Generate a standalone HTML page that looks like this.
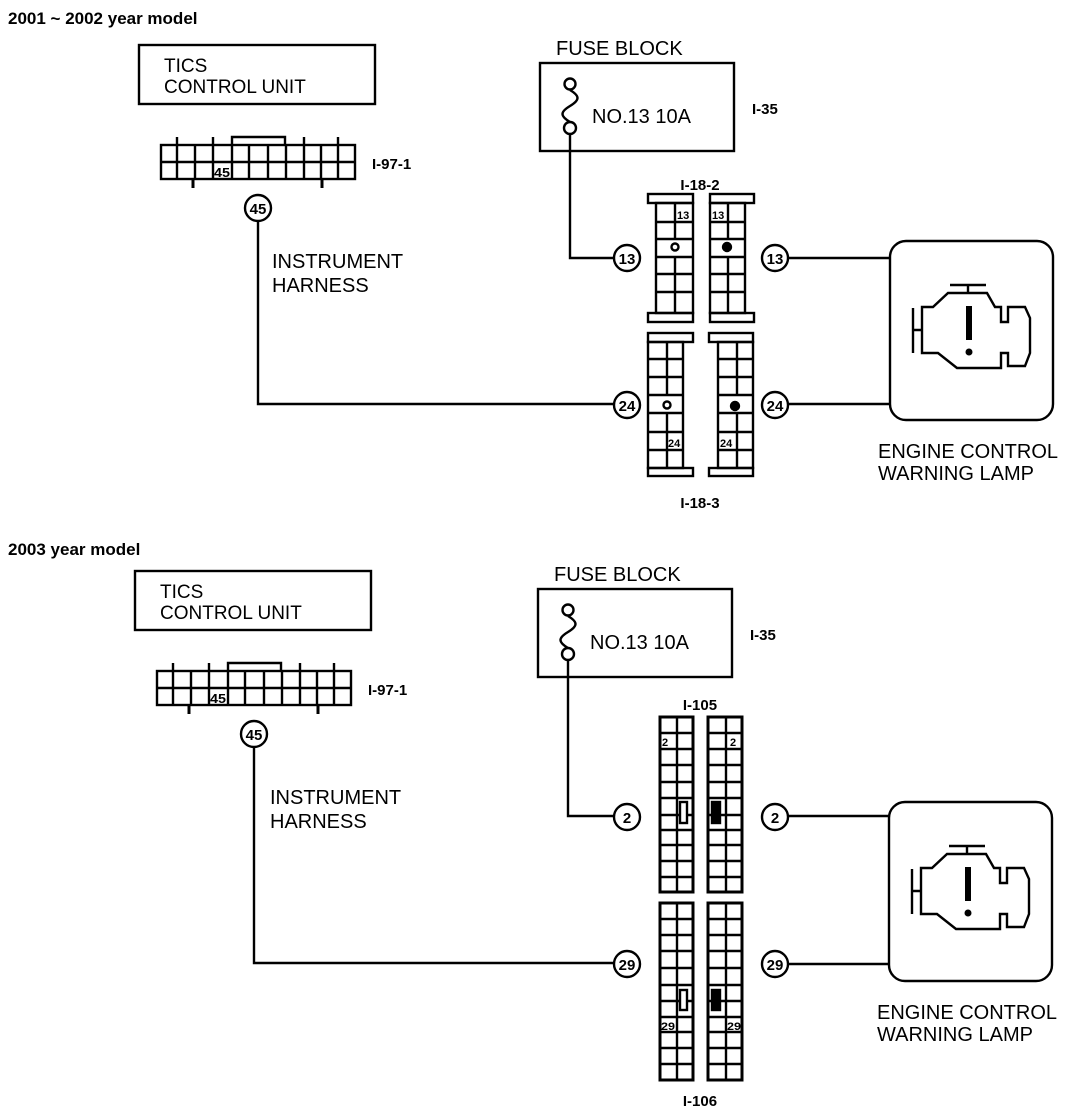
<!DOCTYPE html>
<html><head><meta charset="utf-8"><style>
html,body{margin:0;padding:0;background:#fff;}
svg{display:block;}
text{font-family:"Liberation Sans",sans-serif;fill:#000;}
.t{font-size:20px;}
.s{font-size:15px;font-weight:bold;}
.c{font-size:15px;text-anchor:middle;font-weight:bold;}
.n{font-size:11px;font-weight:bold;}
</style></head><body>
<svg width="1088" height="1112" viewBox="0 0 1088 1112" xmlns="http://www.w3.org/2000/svg" fill="none" stroke="#000" stroke-width="2.4">
<defs>
<g id="tics">
  <rect x="139" y="45" width="236" height="59"/>
  <text x="164" y="72" class="t" stroke="none" style="font-size:19px">TICS</text>
  <text x="164" y="93" class="t" stroke="none" style="font-size:19px">CONTROL UNIT</text>
  <rect x="161" y="145" width="194" height="34"/>
  <line x1="161" y1="162" x2="355" y2="162"/>
  <path d="M177 137V179M195 145V179M213 137V179M232 145V179M249 145V179M268 145V179M286 145V179M304 137V179M321 145V179M338 137V179"/>
  <path d="M232 145V137H285V145" />
  <path d="M193 179V188M322 179V188" stroke-width="3"/>
  <text x="214" y="177" class="n" stroke="none" style="font-size:13px" textLength="16" lengthAdjust="spacingAndGlyphs">45</text>
  <text x="372" y="169" class="s" stroke="none">I-97-1</text>
  <circle cx="258" cy="208" r="13"/>
  <text x="258" y="214" class="c" stroke="none">45</text>
</g>
<g id="fuse">
  <text x="556" y="55" class="t" stroke="none">FUSE BLOCK</text>
  <rect x="540" y="63" width="194" height="88"/>
  <circle cx="570" cy="84" r="5.5"/>
  <circle cx="570" cy="128" r="6"/>
  <path d="M570 90C580 96 580 100 570 106C560 112 560 116 570 122"/>
  <text x="592" y="123" class="t" stroke="none">NO.13 10A</text>
  <text x="752" y="114" class="s" stroke="none">I-35</text>
</g>
<g id="lamp">
  <rect x="890" y="241" width="163" height="179" rx="16"/>
  <path d="M922 307H933L948 293H987L995 307H1001V322H1008V307H1025L1030 318V353L1025 366H1008V353H1001V368H957L938 353H922Z"/>
  <path d="M950 285H986M968 285V293M913 308V353M913 330H922"/>
  <rect x="966" y="306" width="6" height="34" fill="#000" stroke="none"/>
  <circle cx="969" cy="352" r="3.5" fill="#000" stroke="none"/>
  <text x="878" y="458" class="t" stroke="none">ENGINE CONTROL</text>
  <text x="878" y="480" class="t" stroke="none">WARNING LAMP</text>
</g>
</defs>

<text x="8" y="24" stroke="none" style="font-size:17px;font-weight:bold">2001 ~ 2002 year model</text>
<use href="#tics"/>
<use href="#fuse"/>
<use href="#lamp"/>
<text x="272" y="268" class="t" stroke="none">INSTRUMENT</text>
<text x="272" y="292" class="t" stroke="none">HARNESS</text>
<path d="M258 221V404H613M570 134V258H613M789 258H890M789 404H890"/>
<circle cx="627" cy="258" r="13"/><text x="627" y="264" class="c" stroke="none">13</text>
<circle cx="775" cy="258" r="13"/><text x="775" y="264" class="c" stroke="none">13</text>
<circle cx="627" cy="405" r="13"/><text x="627" y="411" class="c" stroke="none">24</text>
<circle cx="775" cy="405" r="13"/><text x="775" y="411" class="c" stroke="none">24</text>
<text x="700" y="190" class="s" stroke="none" text-anchor="middle">I-18-2</text>
<text x="700" y="508" class="s" stroke="none" text-anchor="middle">I-18-3</text>
<rect x="648" y="194" width="45" height="9"/><rect x="648" y="313" width="45" height="9"/>
<rect x="656" y="203" width="37" height="110"/>
<path d="M675 203V239M675 257V313M656 222H693M656 239H693M656 257H693M656 274H693M656 292H693"/>
<circle cx="675" cy="247" r="3.5"/>
<text x="677" y="219" class="n" stroke="none">13</text>
<rect x="710" y="194" width="44" height="9"/><rect x="710" y="313" width="44" height="9"/>
<rect x="710" y="203" width="35" height="110"/>
<path d="M728 203V239M728 257V313M710 222H745M710 239H745M710 257H745M710 274H745M710 292H745"/>
<circle cx="727" cy="247" r="4" fill="#000"/>
<text x="712" y="219" class="n" stroke="none">13</text>
<rect x="648" y="333" width="45" height="9"/><rect x="648" y="468" width="45" height="8"/>
<rect x="648" y="342" width="35" height="126"/>
<path d="M667 342V395M667 413V468M648 359H683M648 377H683M648 395H683M648 413H683M648 432H683M648 450H683"/>
<circle cx="667" cy="405" r="3.5"/>
<text x="668" y="447" class="n" stroke="none">24</text>
<rect x="709" y="333" width="44" height="9"/><rect x="709" y="468" width="44" height="8"/>
<rect x="718" y="342" width="35" height="126"/>
<path d="M737 342V395M737 413V468M718 359H753M718 377H753M718 395H753M718 413H753M718 432H753M718 450H753"/>
<circle cx="735" cy="406" r="4" fill="#000"/>
<text x="720" y="447" class="n" stroke="none">24</text>

<text x="8" y="555" stroke="none" style="font-size:17px;font-weight:bold">2003 year model</text>
<use href="#tics" transform="translate(-4,526)"/>
<use href="#fuse" transform="translate(-2,526)"/>
<use href="#lamp" transform="translate(-1,561)"/>
<text x="270" y="804" class="t" stroke="none">INSTRUMENT</text>
<text x="270" y="828" class="t" stroke="none">HARNESS</text>
<path d="M254 747V963H613M568 660V816H613M789 816H889M789 964H889"/>
<circle cx="627" cy="817" r="13"/><text x="627" y="823" class="c" stroke="none">2</text>
<circle cx="775" cy="817" r="13"/><text x="775" y="823" class="c" stroke="none">2</text>
<circle cx="627" cy="964" r="13"/><text x="627" y="970" class="c" stroke="none">29</text>
<circle cx="775" cy="964" r="13"/><text x="775" y="970" class="c" stroke="none">29</text>
<text x="700" y="710" class="s" stroke="none" text-anchor="middle">I-105</text>
<text x="700" y="1106" class="s" stroke="none" text-anchor="middle">I-106</text>
<rect x="660" y="717" width="33" height="175" stroke-width="3"/>
<path d="M677 717V892M660 733H693M660 749H693M660 765H693M660 782H693M660 798H693M660 815H693M660 830H693M660 845H693M660 861H693M660 877H693"/>
<rect x="680" y="802" width="7" height="21" fill="#fff"/>
<text x="662" y="746" class="n" stroke="none">2</text>
<rect x="708" y="717" width="34" height="175" stroke-width="3"/>
<path d="M726 717V892M708 733H742M708 749H742M708 765H742M708 782H742M708 798H742M708 815H742M708 830H742M708 845H742M708 861H742M708 877H742"/>
<rect x="712" y="802" width="8" height="21" fill="#000"/>
<text x="730" y="746" class="n" stroke="none">2</text>
<rect x="660" y="903" width="33" height="177" stroke-width="3"/>
<path d="M677 903V1080M660 919H693M660 935H693M660 951H693M660 968H693M660 985H693M660 1001H693M660 1017H693M660 1032H693M660 1048H693M660 1064H693"/>
<rect x="680" y="990" width="7" height="20" fill="#fff"/>
<text x="661" y="1030" class="n" stroke="none" textLength="14" lengthAdjust="spacingAndGlyphs">29</text>
<rect x="708" y="903" width="34" height="177" stroke-width="3"/>
<path d="M726 903V1080M708 919H742M708 935H742M708 951H742M708 968H742M708 985H742M708 1001H742M708 1017H742M708 1032H742M708 1048H742M708 1064H742"/>
<rect x="712" y="990" width="8" height="20" fill="#000"/>
<text x="727" y="1030" class="n" stroke="none" textLength="14" lengthAdjust="spacingAndGlyphs">29</text>
</svg>
</body></html>
